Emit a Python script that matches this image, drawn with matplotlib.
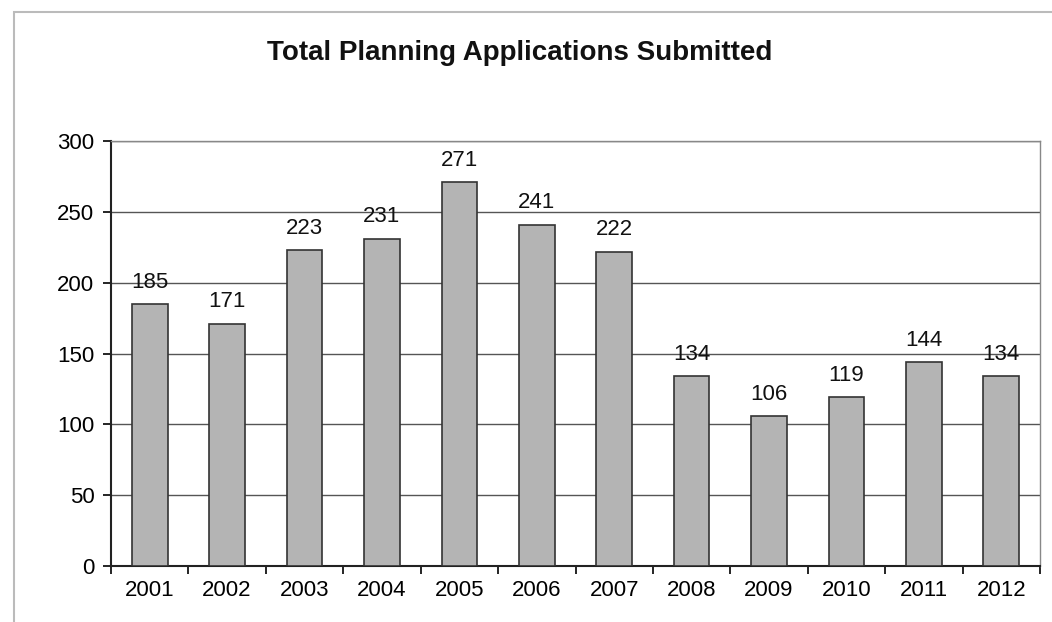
import matplotlib
matplotlib.use("Agg")
import matplotlib.pyplot as plt
from matplotlib.patches import Rectangle
import numpy as np

years = ["2001", "2002", "2003", "2004", "2005", "2006", "2007", "2008", "2009", "2010", "2011", "2012"]
values = [185, 171, 223, 231, 271, 241, 222, 134, 106, 119, 144, 134]
title = "Total Planning Applications Submitted"

plt.rcParams['font.family'] = ['Liberation Sans', 'DejaVu Sans']

fig = plt.figure(figsize=(10.52, 6.22), dpi=100)
fig.patch.set_facecolor('white')
# outer chart border (faint)
fig.patches.append(Rectangle((14/1052, -0.05), 1.2, 1 - 12/622 + 0.05, transform=fig.transFigure,
                             fill=False, edgecolor='#bbbbbb', linewidth=1.5))

ax = fig.add_axes([111/1052, 1 - 566/622, (1040 - 111)/1052, (566 - 141)/622])
x = np.arange(len(years))
ax.bar(x, values, width=0.46, color='#b4b4b4', edgecolor='#333333', linewidth=1.2, zorder=3)
for xi, v in zip(x, values):
    ax.text(xi, v + 8, str(v), ha='center', va='bottom', fontsize=16, color='#111111', zorder=4)

ax.set_xlim(-0.5, len(years) - 0.5)
ax.set_ylim(0, 300)
ax.set_yticks(range(0, 301, 50))
ax.set_xticks(x)
ax.set_xticklabels(years)
ax.set_xticks(np.arange(-0.5, len(years), 1), minor=True)
ax.tick_params(axis='x', which='major', length=0, labelsize=16, pad=10)
ax.tick_params(axis='x', which='minor', length=6, width=1.2, direction='out')
ax.tick_params(axis='y', length=6, width=1.2, direction='out', labelsize=16, pad=6)
ax.yaxis.grid(True, color='#555555', linewidth=1.0, zorder=0)
ax.set_axisbelow(True)
for s in ['left', 'bottom']:
    ax.spines[s].set_color('#222222')
    ax.spines[s].set_linewidth(1.5)
for s in ['top', 'right']:
    ax.spines[s].set_color('#888888')
    ax.spines[s].set_linewidth(1.0)

fig.text(520/1052, 1 - 53/622, title, ha='center', va='center', fontsize=20, fontweight='bold', color='#111111')

fig.savefig('out.png', dpi=100, facecolor='white')
